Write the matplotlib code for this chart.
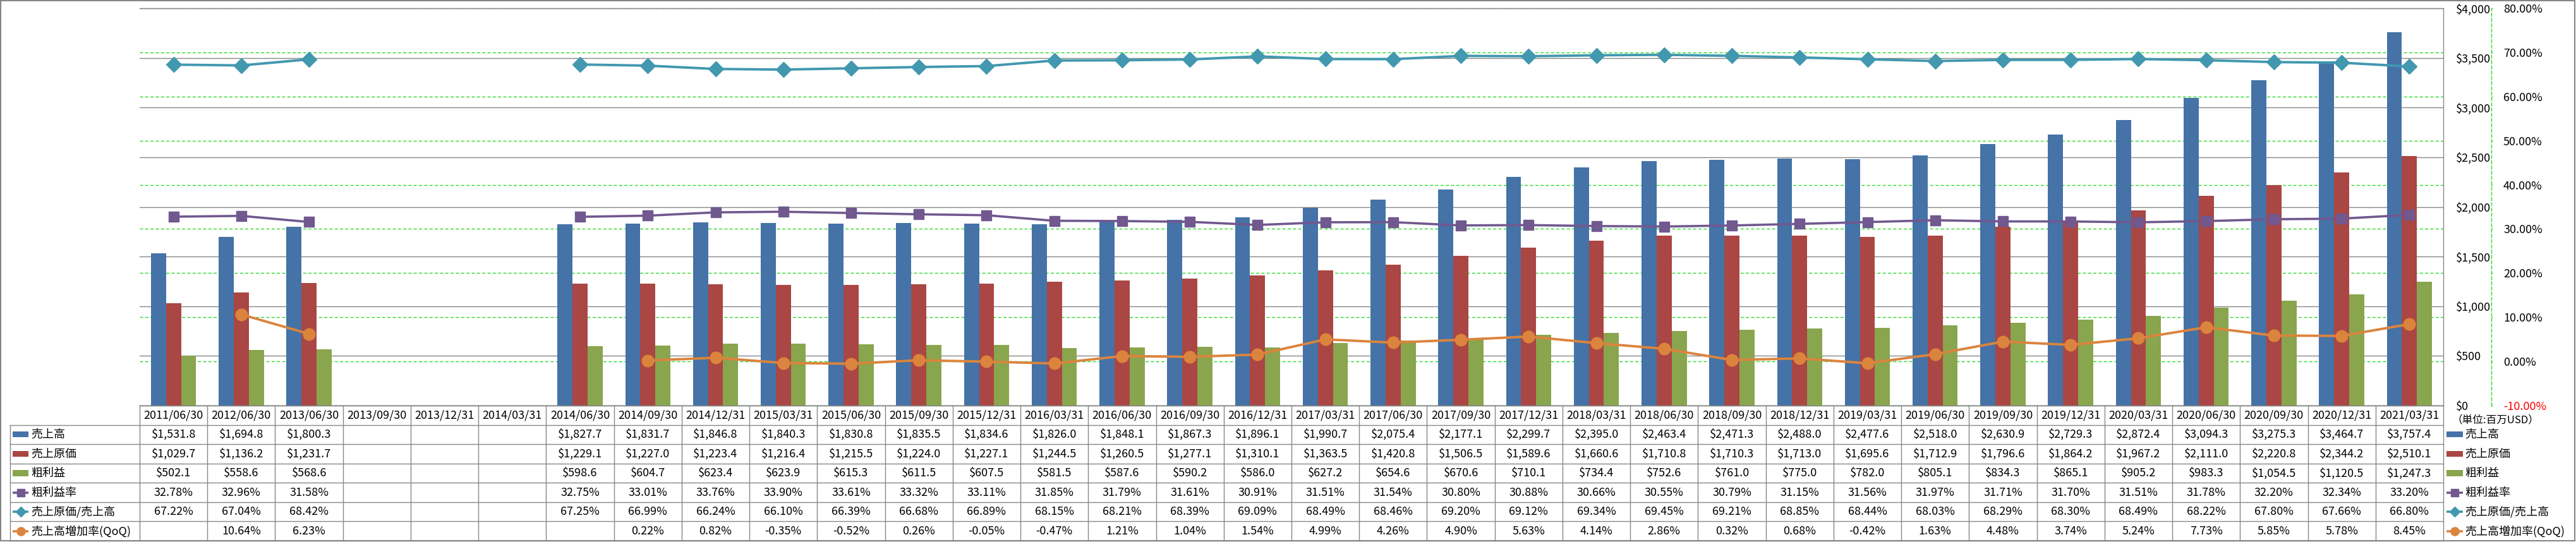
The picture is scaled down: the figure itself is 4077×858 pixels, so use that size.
#!/usr/bin/env python3
"""
Quarterly sales / cost of sales / gross profit chart with an Excel-style data table.
Bars use the $ axis, lines use the % axis (both drawn on the right side).
Output: out.png (4077x858)
"""

import matplotlib

matplotlib.use("Agg")  # Use non-interactive backend
import numpy as np
import matplotlib.pyplot as plt
from matplotlib.patches import Rectangle
from matplotlib.ticker import FuncFormatter

nan = np.nan

DATES = [
    "2011/06/30", "2012/06/30", "2013/06/30", "2013/09/30", "2013/12/31",
    "2014/03/31", "2014/06/30", "2014/09/30", "2014/12/31", "2015/03/31",
    "2015/06/30", "2015/09/30", "2015/12/31", "2016/03/31", "2016/06/30",
    "2016/09/30", "2016/12/31", "2017/03/31", "2017/06/30", "2017/09/30",
    "2017/12/31", "2018/03/31", "2018/06/30", "2018/09/30", "2018/12/31",
    "2019/03/31", "2019/06/30", "2019/09/30", "2019/12/31", "2020/03/31",
    "2020/06/30", "2020/09/30", "2020/12/31", "2021/03/31",
]

SALES = [
    1531.8, 1694.8, 1800.3, nan, nan, nan, 1827.7, 1831.7, 1846.8, 1840.3,
    1830.8, 1835.5, 1834.6, 1826.0, 1848.1, 1867.3, 1896.1, 1990.7, 2075.4,
    2177.1, 2299.7, 2395.0, 2463.4, 2471.3, 2488.0, 2477.6, 2518.0, 2630.9,
    2729.3, 2872.4, 3094.3, 3275.3, 3464.7, 3757.4,
]
COST = [
    1029.7, 1136.2, 1231.7, nan, nan, nan, 1229.1, 1227.0, 1223.4, 1216.4,
    1215.5, 1224.0, 1227.1, 1244.5, 1260.5, 1277.1, 1310.1, 1363.5, 1420.8,
    1506.5, 1589.6, 1660.6, 1710.8, 1710.3, 1713.0, 1695.6, 1712.9, 1796.6,
    1864.2, 1967.2, 2111.0, 2220.8, 2344.2, 2510.1,
]
GROSS = [
    502.1, 558.6, 568.6, nan, nan, nan, 598.6, 604.7, 623.4, 623.9,
    615.3, 611.5, 607.5, 581.5, 587.6, 590.2, 586.0, 627.2, 654.6,
    670.6, 710.1, 734.4, 752.6, 761.0, 775.0, 782.0, 805.1, 834.3,
    865.1, 905.2, 983.3, 1054.5, 1120.5, 1247.3,
]
MARGIN = [
    32.78, 32.96, 31.58, nan, nan, nan, 32.75, 33.01, 33.76, 33.90,
    33.61, 33.32, 33.11, 31.85, 31.79, 31.61, 30.91, 31.51, 31.54,
    30.80, 30.88, 30.66, 30.55, 30.79, 31.15, 31.56, 31.97, 31.71,
    31.70, 31.51, 31.78, 32.20, 32.34, 33.20,
]
COST_RATIO = [
    67.22, 67.04, 68.42, nan, nan, nan, 67.25, 66.99, 66.24, 66.10,
    66.39, 66.68, 66.89, 68.15, 68.21, 68.39, 69.09, 68.49, 68.46,
    69.20, 69.12, 69.34, 69.45, 69.21, 68.85, 68.44, 68.03, 68.29,
    68.30, 68.49, 68.22, 67.80, 67.66, 66.80,
]
QOQ = [
    nan, 10.64, 6.23, nan, nan, nan, nan, 0.22, 0.82, -0.35,
    -0.52, 0.26, -0.05, -0.47, 1.21, 1.04, 1.54, 4.99, 4.26,
    4.90, 5.63, 4.14, 2.86, 0.32, 0.68, -0.42, 1.63, 4.48,
    3.74, 5.24, 7.73, 5.85, 5.78, 8.45,
]

LABELS = ["売上高", "売上原価", "粗利益", "粗利益率", "売上原価/売上高", "売上高増加率(QoQ)"]

# Excel 2007 style palette
COLORS = {
    "sales": "#4572A7",
    "cost": "#AA4643",
    "gross": "#89A54E",
    "margin": "#71588F",
    "ratio": "#4198AF",
    "qoq": "#DB843D",
}
GRID_GREY = "#868686"
GRID_GREEN = "#22DD22"

# ---- layout in pixels ----
W, H = 4077, 858
PLOT_LEFT, PLOT_RIGHT, PLOT_TOP, PLOT_BOTTOM = 221, 3867, 13, 642
TABLE_LEFT, TABLE_BOTTOM = 16, 856
FS = 13

plt.rcParams["font.family"] = ["Noto Sans CJK JP", "DejaVu Sans"]


def fx(px):
    return px / W


def fy(py):
    return 1 - py / H


def draw_key(ax, x0, x1, yc, kind, color, marker=None, ms=9):
    """Small legend key: a bar swatch or a line with marker"""
    if kind == "bar":
        ax.add_patch(
            Rectangle((x0, yc - 0.15), x1 - x0, 0.30, color=color, lw=0, clip_on=False)
        )
    else:
        ax.plot([x0, x1], [yc, yc], color=color, lw=2.6, clip_on=False,
                solid_capstyle="butt")
        ax.plot([(x0 + x1) / 2], [yc], marker=marker, ms=ms, color=color,
                mec=color, clip_on=False)


def main():
    n = len(DATES)
    x = np.arange(n)

    fig = plt.figure(figsize=(W / 100, H / 100), dpi=100)
    fig.patch.set_facecolor("white")

    rect = [fx(PLOT_LEFT), fy(PLOT_BOTTOM), (PLOT_RIGHT - PLOT_LEFT) / W,
            (PLOT_BOTTOM - PLOT_TOP) / H]
    ax = fig.add_axes(rect)
    ax_grid = ax.twinx()  # % gridlines, drawn underneath everything
    ax_pct = ax.twinx()   # % lines, drawn on top of the bars
    ax_grid.set_zorder(0)
    ax.set_zorder(1)
    ax_pct.set_zorder(2)
    ax.patch.set_visible(False)
    ax_pct.patch.set_visible(False)

    # ---- bars ($ axis) ----
    bar_w = 1 / 4.5  # Excel gap width 150%
    bar_series = [(SALES, "sales"), (COST, "cost"), (GROSS, "gross")]
    for k, (vals, key) in enumerate(bar_series):
        ax.bar(x + (k - 1) * bar_w, vals, width=bar_w, color=COLORS[key],
               linewidth=0, zorder=2)

    ax.set_xlim(-0.5, n - 0.5)
    ax.set_ylim(0, 4000)
    ax.set_yticks(np.arange(0, 4001, 500))
    ax.yaxis.set_major_formatter(FuncFormatter(lambda v, p: f"${v:,.0f}"))
    ax.yaxis.tick_right()
    ax.tick_params(axis="y", length=0, pad=14.4, labelsize=FS)
    ax.tick_params(axis="x", bottom=False, labelbottom=False)
    ax.yaxis.grid(True, color=GRID_GREY, lw=1.0)
    ax.set_axisbelow(True)
    ax.spines["left"].set_visible(False)
    for side in ["top", "right", "bottom"]:
        ax.spines[side].set_color(GRID_GREY)
        ax.spines[side].set_linewidth(1.0)

    # ---- % gridlines ----
    pct_ticks = np.arange(-10, 81, 10)
    ax_grid.set_ylim(-10, 80)
    ax_grid.set_yticks(pct_ticks)
    ax_grid.yaxis.grid(True, color=GRID_GREEN, lw=1.0, linestyle=(0, (3.5, 2.5)))
    ax_grid.tick_params(axis="y", right=False, labelright=False, left=False,
                        labelleft=False)
    for side in ax_grid.spines:
        ax_grid.spines[side].set_visible(False)

    # ---- lines (% axis) ----
    ax_pct.plot(x, MARGIN, color=COLORS["margin"], lw=2.6, marker="s", ms=12.2,
                mec=COLORS["margin"], zorder=3)
    ax_pct.plot(x, COST_RATIO, color=COLORS["ratio"], lw=2.8, marker="D", ms=12.2,
                mec=COLORS["ratio"], zorder=3)
    ax_pct.plot(x, QOQ, color=COLORS["qoq"], lw=2.8, marker="o", ms=13.5,
                mec=COLORS["qoq"], zorder=3)

    ax_pct.set_ylim(-10, 80)
    ax_pct.set_yticks(pct_ticks)
    ax_pct.yaxis.set_major_formatter(FuncFormatter(lambda v, p: f"{v:.2f}%"))
    ax_pct.tick_params(axis="y", length=1.7, width=1, color=GRID_GREEN,
                       direction="out", pad=12, labelsize=FS)
    for side in ["left", "top", "bottom"]:
        ax_pct.spines[side].set_visible(False)
    ax_pct.spines["right"].set_position(("outward", 54.7))
    ax_pct.spines["right"].set_color(GRID_GREEN)
    ax_pct.spines["right"].set_linestyle((0, (3.5, 2.5)))
    ax_pct.spines["right"].set_linewidth(1.0)
    ax_pct.yaxis.get_major_ticks()[0].label2.set_color("red")

    # ---- data table ----
    col_w = (PLOT_RIGHT - PLOT_LEFT) / n
    hdr_w = (PLOT_LEFT - TABLE_LEFT) / col_w
    x_left = -0.5 - hdr_w
    tax = fig.add_axes([fx(TABLE_LEFT), fy(TABLE_BOTTOM),
                        (PLOT_RIGHT - TABLE_LEFT) / W,
                        (TABLE_BOTTOM - PLOT_BOTTOM) / H])
    tax.set_xlim(x_left, n - 0.5)
    tax.set_ylim(7, 0)
    tax.axis("off")

    line_kw = dict(color=GRID_GREY, lw=1.0, clip_on=False)
    # horizontal borders
    tax.plot([-0.5, n - 0.5], [0, 0], **line_kw)
    for r in range(1, 8):
        tax.plot([x_left, n - 0.5], [r, r], **line_kw)
    # vertical borders
    for c in range(n + 1):
        tax.plot([c - 0.5, c - 0.5], [0, 7], **line_kw)
    tax.plot([x_left, x_left], [1, 7], **line_kw)

    for i, d in enumerate(DATES):
        tax.text(i, 0.5, d, ha="center", va="center", fontsize=FS)

    rows = [
        (SALES, "${:,.1f}", "bar", "sales", None, 0),
        (COST, "${:,.1f}", "bar", "cost", None, 0),
        (GROSS, "${:,.1f}", "bar", "gross", None, 0),
        (MARGIN, "{:.2f}%", "line", "margin", "s", 8.5),
        (COST_RATIO, "{:.2f}%", "line", "ratio", "D", 8.0),
        (QOQ, "{:.2f}%", "line", "qoq", "o", 9.5),
    ]
    for r, (vals, fmt, kind, key, marker, ms) in enumerate(rows):
        yc = r + 1.5
        for i, v in enumerate(vals):
            if np.isnan(v):
                continue
            tax.text(i, yc, fmt.format(v), ha="center", va="center", fontsize=FS)

        # row header key + label
        k0 = x_left + 4 / col_w
        k1 = x_left + 29 / col_w
        draw_key(tax, k0, k1, yc, kind, COLORS[key], marker, ms)
        tax.text(x_left + 33 / col_w, yc, LABELS[r], ha="left", va="center",
                 fontsize=FS)

        # legend to the right of the table
        l0 = n - 0.5 + 5 / col_w
        l1 = n - 0.5 + 31 / col_w
        draw_key(tax, l0, l1, yc, kind, COLORS[key], marker, ms)
        tax.text(n - 0.5 + 34 / col_w, yc, LABELS[r], ha="left", va="center",
                 fontsize=FS, clip_on=False)

    tax.text(n - 0.5 + 13 / col_w, 0.75, "（単位:百万USD）", ha="left",
             va="center", fontsize=12, clip_on=False)

    # chart area border
    fig.add_artist(
        Rectangle((fx(1), fy(856)), (W - 3) / W, 855 / H,
                  transform=fig.transFigure, fill=False, ec=GRID_GREY, lw=1.5)
    )

    fig.savefig("out.png", dpi=100)
    plt.close(fig)


if __name__ == "__main__":
    main()
